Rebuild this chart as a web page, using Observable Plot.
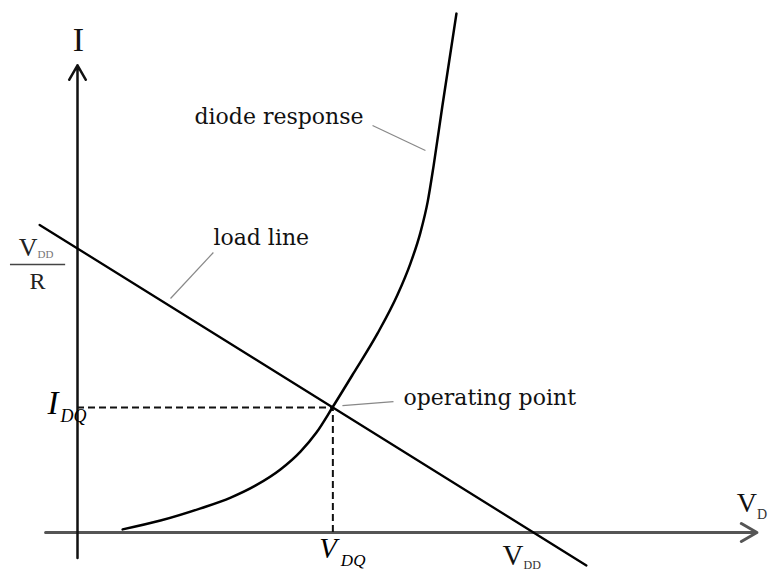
<!DOCTYPE html>
<html>
<head>
<meta charset="utf-8">
<script src="https://cdn.jsdelivr.net/npm/d3@7"></script>
<script src="https://cdn.jsdelivr.net/npm/@observablehq/plot@0.6"></script>
<style>
  html, body { margin: 0; padding: 0; background: #fff; }
  #chart svg { display: block; }
</style>
</head>
<body>
<div id="chart"></div>
<script>
// Diode load-line analysis, in normalised units:
// V in units of V_DD, I in units of V_DD / R.
const V_DD = 1;
const I_MAX = 1;           // V_DD / R
const V_DQ = 0.56;         // operating point voltage
const I_DQ = 0.44;         // operating point current

// Diode I–V response
const diodeV = [0.099, 0.182, 0.270, 0.336, 0.390, 0.445, 0.489, 0.524, 0.559, 0.605, 0.658, 0.702, 0.730, 0.752, 0.768, 0.781, 0.800, 0.831];
const diodeI = [0.011, 0.042, 0.085, 0.123, 0.165, 0.222, 0.285, 0.352, 0.440, 0.560, 0.701, 0.838, 0.947, 1.056, 1.165, 1.292, 1.500, 1.827];

// Load line end points (I = I_MAX - V)
const loadV = [-0.083, 1.116];
const loadI = [1.083, -0.116];

// Axis extents
const axisV = [-0.07, 1.49];
const axisI = [-0.09, 1.645];

// Callout leaders: [from, to] in (V, I)
const leaderLoad = [[0.298, 0.986], [0.204, 0.824]];
const leaderDiode = [[0.647, 1.433], [0.763, 1.345]];
const leaderOp = [[0.581, 0.447], [0.693, 0.461]];
const fractionBar = [-0.147, -0.026];

const serif = "'Liberation Serif', 'Times New Roman', serif";
const labelFont = "'DejaVu Serif', serif";

const diode = diodeV.map((v, i) => ({v, i: diodeI[i]}));
const load = loadV.map((v, i) => ({v, i: loadI[i]}));
const leaders = [leaderLoad, leaderDiode, leaderOp].map(([a, b]) => ({x1: a[0], y1: a[1], x2: b[0], y2: b[1]}));

const chart = Plot.plot({
  width: 768,
  height: 570,
  margin: 0,
  x: {domain: [0, V_DD], range: [77, 533], axis: null},
  y: {domain: [0, I_MAX], range: [532, 248], axis: null},
  marks: [
    // axes with arrow heads
    Plot.arrow([{x1: axisV[0], y1: 0, x2: axisV[1], y2: 0}], {
      x1: "x1", y1: "y1", x2: "x2", y2: "y2",
      stroke: "#555", strokeWidth: 3, headLength: 9, headAngle: 60
    }),
    Plot.arrow([{x1: 0, y1: axisI[0], x2: 0, y2: axisI[1]}], {
      x1: "x1", y1: "y1", x2: "x2", y2: "y2",
      stroke: "#111", strokeWidth: 2.5, headLength: 10, headAngle: 60
    }),
    // projections of the operating point
    Plot.ruleY([I_DQ], {x1: 0, x2: V_DQ, stroke: "#111", strokeWidth: 2, strokeDasharray: "7,4"}),
    Plot.ruleX([V_DQ], {y1: 0, y2: I_DQ, stroke: "#111", strokeWidth: 2, strokeDasharray: "7,4"}),
    // load line
    Plot.line(load, {x: "v", y: "i", stroke: "#000", strokeWidth: 2.3}),
    // diode response
    Plot.line(diode, {x: "v", y: "i", stroke: "#000", strokeWidth: 2.5, curve: "monotone-x"}),
    // callout leaders
    Plot.link(leaders, {x1: "x1", y1: "y1", x2: "x2", y2: "y2", stroke: "#888", strokeWidth: 1.2}),
    // callout labels
    Plot.text(["load line"], {x: leaderLoad[0][0], y: leaderLoad[0][1], textAnchor: "start", lineAnchor: "bottom", dy: -7, fontSize: 22, fontFamily: labelFont, fill: "#111"}),
    Plot.text(["diode response"], {x: leaderDiode[0][0], y: leaderDiode[0][1], textAnchor: "end", lineAnchor: "bottom", dx: -9, dy: -2, fontSize: 22, fontFamily: labelFont, fill: "#111"}),
    Plot.text(["operating point"], {x: leaderOp[1][0], y: leaderOp[1][1], textAnchor: "start", lineAnchor: "bottom", dx: 10, dy: 3, fontSize: 22, fontFamily: labelFont, fill: "#111"}),
    // axis titles
    Plot.text(["I"], {x: 0, y: axisI[1], textAnchor: "middle", lineAnchor: "bottom", dx: 1, dy: -14, fontSize: 34, fontFamily: serif, fill: "#111"}),
    Plot.text(["V"], {x: axisV[1], y: 0, textAnchor: "end", lineAnchor: "bottom", dy: -21, fontSize: 28, fontFamily: serif, fill: "#111"}),
    Plot.text(["D"], {x: axisV[1], y: 0, textAnchor: "start", lineAnchor: "bottom", dx: 0, dy: -14, fontSize: 14, fontFamily: serif, fill: "#333"}),
    // V_DD / R on the current axis
    Plot.text(["V"], {x: 0, y: I_MAX, textAnchor: "end", lineAnchor: "bottom", dx: -40, dy: 7, fontSize: 26, fontFamily: serif, fill: "#222"}),
    Plot.text(["DD"], {x: 0, y: I_MAX, textAnchor: "start", lineAnchor: "bottom", dx: -40, dy: 9, fontSize: 11, fontFamily: serif, fill: "#777"}),
    Plot.ruleY([I_MAX], {x1: fractionBar[0], x2: fractionBar[1], dy: 16, stroke: "#444", strokeWidth: 1.3}),
    Plot.text(["R"], {x: 0, y: I_MAX, textAnchor: "middle", lineAnchor: "bottom", dx: -40, dy: 40, fontSize: 24, fontFamily: serif, fill: "#222"}),
    // I_DQ
    Plot.text(["I"], {x: 0, y: I_DQ, textAnchor: "end", lineAnchor: "bottom", dx: -19, dy: 6, fontSize: 33, fontStyle: "italic", fontFamily: serif, fill: "#000"}),
    Plot.text(["DQ"], {x: 0, y: I_DQ, textAnchor: "start", lineAnchor: "bottom", dx: -17, dy: 14, fontSize: 18, fontStyle: "italic", fontFamily: serif, fill: "#000"}),
    // V_DQ
    Plot.text(["V"], {x: V_DQ, y: 0, textAnchor: "end", lineAnchor: "bottom", dx: 4, dy: 25, fontSize: 29, fontStyle: "italic", fontFamily: serif, fill: "#000"}),
    Plot.text(["DQ"], {x: V_DQ, y: 0, textAnchor: "start", lineAnchor: "bottom", dx: 8, dy: 33, fontSize: 17, fontStyle: "italic", fontFamily: serif, fill: "#000"}),
    // V_DD on the voltage axis
    Plot.text(["V"], {x: V_DD, y: 0, textAnchor: "end", lineAnchor: "bottom", dx: -10, dy: 32, fontSize: 29, fontFamily: serif, fill: "#111"}),
    Plot.text(["DD"], {x: V_DD, y: 0, textAnchor: "start", lineAnchor: "bottom", dx: -10, dy: 36, fontSize: 12, fontFamily: serif, fill: "#333"})
  ]
});

document.getElementById("chart").appendChild(chart);
</script>
</body>
</html>
